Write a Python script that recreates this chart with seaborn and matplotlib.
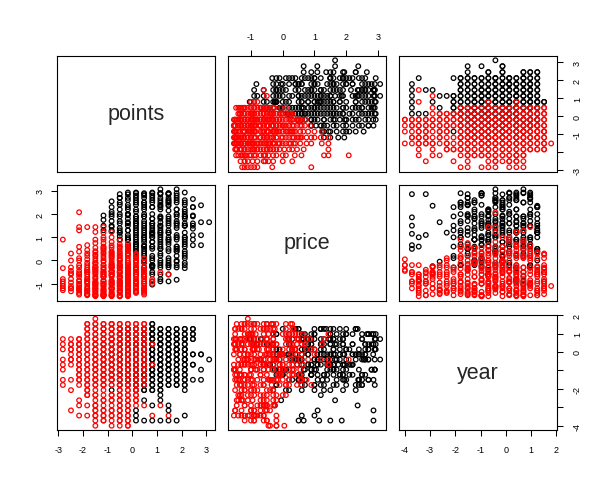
import pandas as pd
import matplotlib
matplotlib.use("Agg")
import matplotlib.pyplot as plt
import seaborn as sns

# standardised levels of the two discrete variables
points_levels = [-2.82, -2.49, -2.16, -1.83, -1.50, -1.17, -0.84, -0.51, -0.18, 0.15,
                 0.48, 0.81, 1.14, 1.47, 1.80, 2.13, 2.46, 2.79, 3.12]
year_levels = [-4.00, -3.72, -3.45, -3.17, -2.90, -2.62, -2.34, -2.07, -1.79, -1.51, -1.24,
               -0.96, -0.69, -0.41, -0.13, 0.14, 0.42, 0.70, 0.97, 1.25, 1.52, 1.80]

# red group: one row per points level -> index into year_levels, and price
red_year = [
    [17, 16, 15, 13, 12, 11, 9, 8],
    [17, 16, 16, 15, 14, 13, 12, 9, 7, 3, 15, 13],
    [17, 16, 12, 14, 13, 15, 11, 10, 17, 8, 9, 15, 13, 11, 9, 5, 4, 2,
     16, 14, 12, 10, 16],
    [20, 19, 18, 17, 16, 15, 14, 13, 12, 11, 10, 9, 8, 7, 6, 4, 2, 17, 15, 12,
     19, 18, 16, 14, 13, 11, 10, 9, 8, 20, 7, 6],
    [21, 20, 19, 18, 17, 16, 15, 14, 13, 12, 11, 10, 9, 8, 7, 5, 4, 3, 2, 1, 0, 17, 15, 13, 11, 9, 18, 14,
     20, 19, 17, 16, 15, 14, 13, 12, 11, 10, 9, 8, 16, 12, 6, 6, 4, 3, 2],
    [20, 19, 18, 17, 16, 15, 14, 13, 12, 11, 10, 9, 8, 7, 5, 4, 3, 2, 1, 18, 16, 15, 14, 13, 12, 11, 10, 9, 17,
     20, 19, 18, 17, 16, 15, 14, 13, 12, 11, 10, 9, 8, 8, 19, 13, 6, 5, 3, 2, 1],
    [20, 19, 18, 17, 16, 15, 14, 13, 12, 11, 10, 9, 8, 6, 5, 4, 3, 2, 1, 0, 18, 17, 16, 15, 14, 13, 12, 11, 10, 9, 19,
     20, 19, 18, 17, 16, 15, 14, 13, 12, 11, 10, 9, 8, 20, 17, 14, 6, 5, 3, 2],
    [20, 19, 18, 17, 16, 15, 14, 13, 12, 11, 10, 9, 8, 7, 6, 5, 4, 3, 2, 1, 0, 18, 17, 16, 15, 14, 13, 12, 11, 10,
     20, 19, 18, 17, 16, 15, 14, 13, 12, 11, 10, 9, 8, 19, 16, 12, 7, 6, 5, 4, 3, 2, 1],
    [20, 19, 18, 17, 16, 15, 14, 13, 12, 11, 10, 9, 8, 7, 6, 5, 4, 3, 2, 1, 0, 17, 16, 15, 14, 13, 12, 11,
     20, 19, 18, 17, 16, 15, 14, 13, 12, 11, 10, 9, 8, 18, 13, 10, 7, 6, 5, 4, 3, 2, 1, 0],
    [20, 19, 18, 17, 16, 15, 14, 13, 12, 11, 10, 9, 8, 7, 6, 5, 4, 16, 14, 12,
     19, 18, 17, 15, 13, 11, 10, 9, 8, 20, 17, 7, 6, 5],
    [20, 19, 18, 17, 16, 15, 14, 13, 12, 11, 10, 9, 8, 4, 16, 13, 18, 14,
     19, 17, 15, 12, 11, 9, 20],
    [2, 16, 12],
    [4],
    [2],
    [], [], [], [], [],
]
red_price = [
    [-1.28, -1.0, 0.9, -0.9, -1.1, -0.33, -0.8, -1.2],
    [-1.33, 0.3, -0.95, -0.8, 0.0, -1.1, -0.45, -0.3, -1.2, -0.55, -1.2, -0.6],
    [-1.47, -1.3, 1.44, -1.0, 2.08, 0.38, -0.2, -0.7, 1.3, 0.59, 0.0, -0.45, -1.15, -0.85, -1.4, -1.25, -0.55, -1.05,
     -0.6, -0.3, -0.9, -1.2, 0.1],
    [-1.3, -0.9, 0.66, -1.47, -0.2, 0.3, -1.1, 1.44, -0.6, 0.05, -1.35, -0.4, -0.95, -1.2, -0.7, -1.45, -0.8, 0.45, -0.5, -1.2,
     -0.3, -1.0, -0.9, -0.4, -0.8, -1.5, -0.1, 0.2, -1.45, -0.5, -0.5, -1.3],
    [-1.1, -0.8, -1.5, 0.2, -0.5, 1.23, -1.2, 0.0, -0.3, 1.44, -1.54, 0.55, -0.95, 0.9, -1.3, -1.45, -0.6, -1.0, -1.3, -0.9,
     -0.4, 0.75, -0.75, -1.4, 0.35, -0.15, -1.05, -0.55,
     0.1, -0.25, -1.0, -0.3, 0.4, -1.35, 0.25, -0.95, -0.45, -1.2, -1.5, -0.1, -1.5, -0.1, -1.1, -0.3, -1.2, -0.4, -0.7],
    [-1.1, -0.4, 1.44, -1.54, 0.6, -0.9, 1.0, -0.2, -1.3, 0.3, -0.7, -1.45, 0.1, -1.0, -1.25, -0.5, -1.5, -0.85, -1.2,
     -0.6, -1.3, 0.9, -0.05, 1.2, 0.45, -1.0, -1.5, 0.75, -0.3,
     -0.2, 0.35, -1.0, 0.5, -0.7, -1.45, -1.1, -0.7, 0.0, -1.5, 0.2, -0.35, -1.35, -0.6, -1.5, 0.55, -0.6, -0.5, -0.9, -1.4, -0.5],
    [-0.6, -1.2, 0.4, -1.5, 1.23, -0.3, -0.9, 0.8, -1.4, 0.0, -1.05, 0.55, -0.7, -1.35, -0.95, -0.25, -1.5, -0.6, -1.0, -0.2,
     -0.85, 0.15, -0.45, 1.0, 0.25, -1.25, 0.65, -1.54, -0.15, -1.2, 0.1,
     -1.45, -0.5, -0.3, -0.65, -1.1, -1.5, -0.45, -0.1, -0.3, -0.6, 0.35, -0.45, 0.2, 0.3, -1.0, -1.2, -0.5, -0.2, -0.9, -1.2],
    [-1.0, 0.3, -1.5, 0.87, -0.2, -1.3, 0.6, -0.75, -1.54, 0.2, -0.5, -1.1, 0.45, -0.9, 0.1, -1.4, -0.3, -1.0, -1.54, -0.6, 0.05,
     0.0, -1.2, 0.7, -0.45, -1.35, 0.35, -0.1, -0.85, 0.55,
     -0.35, -0.7, -0.95, -0.5, -1.54, 0.2, -0.3, -1.1, 0.0, -1.5, -1.3, -0.2, -1.1, -1.3, -0.9, -0.7, -0.3, -1.0, -0.7, -1.2,
     -0.5, -0.9, -0.2],
    [-0.3, -1.3, 0.5, -0.8, -1.5, 0.73, -0.1, -1.2, 0.3, -0.6, -1.45, 0.6, -0.35, -1.5, 0.0, -1.1, -0.6, -1.3, -0.2, -0.9, -0.45,
     0.2, 0.45, -0.95, -1.54, 0.1, -0.7, 0.55,
     0.25, -0.6, -1.1, -1.35, -0.4, -0.3, 0.45, -0.55, -1.3, -1.0, -0.1, -1.2, -0.9, -0.45, -0.85, 0.3, -0.8, -1.4, -0.3, -1.0,
     -0.7, -1.1, -0.5, -0.2],
    [-1.2, -0.5, 0.3, -0.9, -1.4, 0.0, -0.7, -1.1, 0.2, -0.3, -1.35, -0.6, 0.1, -1.0, -0.2, -1.3, -0.8, 0.25, -0.1, -0.5,
     -1.0, -1.2, -0.3, -0.95, -0.4, -1.0, -0.05, -1.35, -0.6, -0.35, 0.1, -0.4, -0.9, -0.6],
    [-0.9, -1.4, -0.3, -1.1, -0.6, -1.47, -0.5, -0.26, -1.2, -0.8, -1.0, -0.4, -1.3, -0.7, -1.25, -0.7, 0.1, -0.05,
     -0.6, -0.5, -0.9, -0.6, -1.35, -1.0, -1.2],
    [-0.9, -0.8, -1.0],
    [-0.5],
    [-0.6],
    [], [], [], [], [],
]

# black group
black_year = [
    [], [], [], [], [],
    [14, 12, 16, 10],
    [13, 7, 15, 11, 17, 9, 12, 14, 10, 16],
    [17, 16, 14, 12, 10, 15, 13, 11, 18, 9, 8, 19, 16, 14, 13, 10, 18],
    [19, 18, 17, 16, 15, 14, 13, 12, 11, 10, 9, 8, 16, 14, 12, 18,
     19, 17, 15, 13, 11, 9, 16, 14, 12, 10],
    [16, 15, 14, 13, 12, 11, 10, 9, 8, 7, 3, 2, 1, 16, 15, 14, 13, 12, 11, 10,
     16, 15, 14, 13, 12, 11, 10, 9, 8, 17, 18, 19],
    [19, 18, 17, 16, 15, 14, 12, 13, 11, 10, 9, 8, 7, 5, 1, 18, 17, 16, 15, 14, 13, 12, 11, 10,
     19, 18, 17, 16, 15, 14, 13, 12, 11, 10, 9, 8, 7],
    [20, 19, 18, 17, 16, 15, 14, 13, 12, 11, 10, 9, 8, 7, 4, 1, 19, 18, 17, 16, 15, 14, 13, 12, 11, 10,
     20, 19, 18, 17, 16, 15, 14, 13, 12, 11, 10, 9, 8, 7],
    [19, 18, 17, 16, 15, 14, 13, 12, 11, 10, 9, 8, 7, 6, 5, 1, 18, 17, 16, 16, 14, 13, 12, 11, 10,
     19, 18, 17, 16, 15, 14, 13, 12, 11, 10, 9, 8, 7],
    [19, 18, 17, 16, 15, 14, 13, 12, 11, 10, 9, 8, 4, 3, 1, 18, 17, 16, 15, 14, 13, 12, 11,
     19, 18, 17, 16, 15, 14, 13, 12, 11, 10, 9, 8],
    [19, 18, 17, 16, 15, 14, 13, 12, 11, 10, 9, 8, 1, 18, 17, 16, 15, 14, 13, 15,
     19, 18, 17, 16, 15, 14, 13, 12, 11, 10, 9, 8],
    [19, 18, 17, 16, 15, 14, 13, 12, 11, 10, 9, 8, 7, 2, 17, 15, 13,
     19, 18, 17, 16, 15, 14, 13, 12, 11, 10, 9, 8],
    [19, 18, 17, 14, 12, 9, 17, 18, 19, 14, 12],
    [14, 11, 9, 14],
    [13],
]
black_price = [
    [], [], [], [], [],
    [1.94, 1.75, 1.5, 1.3],
    [2.55, 2.3, 2.0, 1.7, 1.45, 1.25, 1.9, 1.5, 2.1, 1.3],
    [0.9, 2.86, 2.5, 2.2, 1.9, 1.6, 1.3, 1.05, 2.0, 1.7, 2.4, 1.2, 1.2, 1.4, 2.7, 0.9, 2.7],
    [1.5, 2.2, 2.93, 0.9, 2.6, 1.8, 1.1, 0.45, 2.4, 1.3, 2.0, 0.7, 1.65, 2.85, 1.95, 0.6,
     2.0, 1.0, 1.3, 2.3, 0.9, 0.5, 2.7, 0.6, 1.6, 0.9],
    [2.93, 0.3, 1.9, 2.5, 0.8, 1.4, 2.2, 0.5, 1.7, 0.2, 1.1, 0.6, 1.5, 1.2, 2.7, 0.16, 1.0, 2.1, 0.7, 1.6,
     0.6, 1.8, 2.6, 0.4, 1.6, 2.8, 0.9, 2.4, 2.9, 1.9, 0.7, 1.3],
    [1.0, 2.86, -0.69, 2.2, 0.4, 1.6, -0.3, 2.7, 0.9, -0.1, 1.9, 2.5, 0.6, -0.05, 0.66, 0.2, 1.3, -0.5, 2.9, 0.0, 1.1, -0.4, 2.0, 1.4,
     2.3, 1.7, 2.5, 0.8, 1.0, 2.4, 0.5, 1.5, 2.8, 0.6, 0.3, 1.2, 1.9],
    [-0.9, 0.5, 2.8, -1.04, 1.5, 2.93, -0.2, 2.0, 0.8, -0.25, 2.5, 1.1, -0.2, 0.1, -0.25, 1.15, 2.3, -0.3, 1.8, 0.2, -0.2, 1.3,
     0.6, -0.6, 2.9, 0.0,
     -0.5, 1.2, 1.0, 0.6, 2.6, 0.8, 2.3, 1.4, 1.2, 1.6, 1.8, 2.7, 1.6, 1.0],
    [2.36, -0.2, 3.07, -0.8, 1.2, 2.6, 0.3, -0.6, 1.9, 0.0, 2.86, 1.0, -0.3, 1.2, 1.65, 1.86, 1.5, 0.5, 2.2, -0.9, 0.8, 2.9,
     1.4, -0.1, 2.5,
     0.5, 2.7, 1.5, 0.9, 2.4, 0.2, 1.8, 0.6, 2.9, 1.1, 0.7, 2.3, 1.3],
    [0.0, 2.5, -0.9, 1.7, 2.9, 0.4, -0.1, 2.15, 1.0, -0.2, 2.7, 1.3, 2.36, 2.86, 2.86, 0.9, 1.9, -0.3, 0.7, 2.4, 1.5, -0.6, 2.9,
     1.2, -0.2, 0.8, 2.6, 1.6, 1.2, 2.6, 0.9, 0.1, 1.8, 0.5, 2.5],
    [1.6, -0.3, 2.9, -0.83, 0.6, 2.2, 3.07, 1.1, 0.0, 2.6, 1.4, -0.2, 0.5, 2.0, 0.2, 1.9, 0.9, -0.05, 1.7, 2.7,
     0.4, 1.0, 1.6, 2.8, 2.0, 0.6, 0.4, 2.2, 1.5, 0.5, 2.5, 1.0],
    [0.4, 2.93, 1.2, -0.33, 2.1, 0.8, 2.6, 1.5, 0.1, 1.9, 2.4, 0.6, 1.5, 1.0, 2.5, -0.1, 1.0,
     1.8, 1.5, 0.3, 1.9, 0.7, 2.2, -0.2, 1.9, 1.6, 0.9, 0.2, 2.0],
    [1.37, 2.65, 0.66, 2.3, 1.09, 1.94, 1.6, 1.9, 2.3, 1.5, 0.9],
    [1.65, 0.66, 2.38, 1.09],
    [1.65],
]

var_names = ["points", "price", "year"]

# build long table (black drawn first, red on top)
rows = []
for group, years, prices in [("black", black_year, black_price), ("red", red_year, red_price)]:
    for k, (yy, pp) in enumerate(zip(years, prices)):
        assert len(yy) == len(pp), (group, k, len(yy), len(pp))
        for j, pr in zip(yy, pp):
            rows.append((points_levels[k], pr, year_levels[j], group))
df = pd.DataFrame(rows, columns=["points", "price", "year", "group"])

sns.set_theme(style="white")
plt.rcParams["font.family"] = ["Liberation Sans", "DejaVu Sans"]

# axis limits like R: data range + 4%
lims = {}
for v in var_names:
    lo, hi = df[v].min(), df[v].max()
    pad = 0.04 * (hi - lo)
    lims[v] = (lo - pad, hi + pad)

fig = plt.figure(figsize=(6.15, 4.89), dpi=100)
FW, FH = 615, 489
lefts = [57, 228, 399]
tops = [57, 186, 315.5]
W, H = 158, 115.5

axes = {}
for r, yv in enumerate(var_names):
    for c, xv in enumerate(var_names):
        ax = fig.add_axes([lefts[c] / FW, (FH - tops[r] - H) / FH, W / FW, H / FH])
        axes[(r, c)] = ax
        if r == c:
            ax.text(0.5, 0.5, xv, ha="center", va="center", fontsize=15.5, transform=ax.transAxes)
        else:
            for group, col in [("black", "black"), ("red", "red")]:
                sub = df[df["group"] == group]
                sns.scatterplot(data=sub, x=xv, y=yv, ax=ax, color=col, s=11, linewidth=0.9, legend=False)
                coll = ax.collections[-1]
                coll.set_facecolor("none")
                coll.set_edgecolor(col)
            ax.set_xlim(lims[xv])
            ax.set_ylim(lims[yv])
        ax.set_xlabel("")
        ax.set_ylabel("")
        ax.set_xticks([])
        ax.set_yticks([])
        for sp in ax.spines.values():
            sp.set_visible(True)
            sp.set_color("black")
            sp.set_linewidth(0.8)


def x_axis(ax, var, side, ticks):
    ax.set_xlim(lims[var])
    ax.set_xticks(ticks)
    ax.set_xticklabels([str(t) for t in ticks])
    ax.tick_params(axis="x", direction="out", length=4, width=0.75, labelsize=6.5, pad=6.5,
                   colors="black", bottom=(side == "bottom"), top=(side == "top"),
                   labelbottom=(side == "bottom"), labeltop=(side == "top"))


def y_axis(ax, var, side, ticks, labels):
    ax.set_ylim(lims[var])
    ax.set_yticks(ticks)
    ax.set_yticklabels(labels, rotation=90, va="center")
    ax.tick_params(axis="y", direction="out", length=4, width=0.75, labelsize=6.5,
                   pad=5 if side == "left" else 7.5,
                   colors="black", left=(side == "left"), right=(side == "right"),
                   labelleft=(side == "left"), labelright=(side == "right"))


x_axis(axes[(2, 0)], "points", "bottom", [-3, -2, -1, 0, 1, 2, 3])
x_axis(axes[(0, 1)], "price", "top", [-1, 0, 1, 2, 3])
x_axis(axes[(2, 2)], "year", "bottom", [-4, -3, -2, -1, 0, 1, 2])
y_axis(axes[(1, 0)], "price", "left", [-1, 0, 1, 2, 3], ["-1", "0", "1", "2", "3"])
y_axis(axes[(0, 2)], "points", "right", [-3, -2, -1, 0, 1, 2, 3], ["-3", "", "-1", "0", "1", "2", "3"])
y_axis(axes[(2, 2)], "year", "right", [-4, -3, -2, -1, 0, 1, 2], ["-4", "", "-2", "", "0", "1", "2"])

fig.savefig("out.png", dpi=100)
